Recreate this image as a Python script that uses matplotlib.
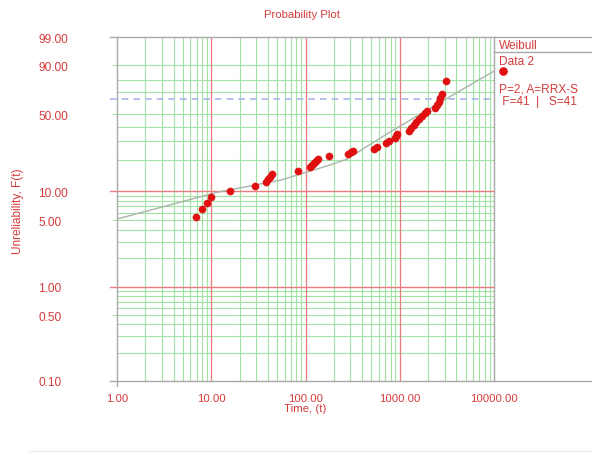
import numpy as np
import matplotlib
matplotlib.use("Agg")
import matplotlib.pyplot as plt
from matplotlib.lines import Line2D

plt.rcParams['font.family'] = ['Liberation Sans', 'DejaVu Sans']

# ---------------- data ----------------
fail_times = [6.9, 8.0, 9.0, 9.9, 15.8, 29.1, 38.1, 40.0, 42.0, 44.1,
              83.2, 111.6, 117.2, 123.1, 129.2, 135.7, 177.5, 282.5, 304, 319,
              533, 574, 714, 769, 891, 912, 935,
              1254, 1316, 1416, 1487, 1600, 1722, 1854, 1946,
              2366, 2484, 2608, 2673, 2806, 3096]
unrel_pct = [5.42, 6.56, 7.56, 8.70, 10.0, 11.2, 12.3, 13.2, 13.8, 14.8,
             15.8, 17.3, 18.1, 18.9, 19.7, 20.6, 22.0, 23.0, 24.0, 24.5,
             25.5, 26.6, 28.9, 30.1, 32.0, 33.4, 34.7,
             36.8, 39.0, 41.2, 43.5, 46.0, 48.4, 51.0, 52.7,
             55.3, 58.0, 60.7, 64.3, 67.9, 79.0]

fit_t = [1, 11.5, 55, 104, 169, 276, 483, 788, 2673, 10000]
fit_pct = [5.17, 9.71, 12.9, 15.5, 17.7, 20.6, 28.1, 36.1, 60.4, 86.4]

eta_pct = 63.2

x_major = [10, 100, 1000]
x_minor = [k * 10 ** d for d in range(4) for k in range(2, 10)]
y_major = [1, 10]
y_minor = [0.2, 0.3, 0.4, 0.5, 0.6, 0.7, 0.8, 0.9,
           2, 3, 4, 5, 6, 7, 8, 9,
           20, 30, 40, 50, 70, 80, 90]
x_ticks = [1, 10, 100, 1000, 10000]
x_labels = ["1.00", "10.00", "100.00", "1000.00", "10000.00"]
y_ticks = [0.1, 0.5, 1, 5, 10, 50, 90, 99]
y_labels = ["0.10", "0.50", "1.00", "5.00", "10.00", "50.00", "90.00", "99.00"]
y_ext = [0.5, 5, 50, 90]

legend_lines = ["Weibull", "Data 2", "P=2, A=RRX-S", " F=41  |   S=41"]

# ---------------- styles ----------------
RED_TXT = '#d43c3c'
GRID_G = '#a2e2a2'
GRID_R = '#ee7a7a'
FRAME = '#a8a8a8'
DOT = '#e01010'
FIT = '#a9b5a9'
DASH = '#a6b6ea'


def fwd(p):
    p = np.asarray(p, dtype=float)
    with np.errstate(all='ignore'):
        q = np.clip(p / 100.0, 1e-12, 1 - 1e-12)
        return np.log(-np.log(1 - q))


def inv(w):
    w = np.asarray(w, dtype=float)
    with np.errstate(all='ignore'):
        return 100.0 * (1 - np.exp(-np.exp(w)))


fig = plt.figure(figsize=(5.92, 4.60), dpi=100)
L, R, B, T = 117 / 592, 494 / 592, 1 - 382 / 460, 1 - 38 / 460
ax = fig.add_axes([L, B, R - L, T - B])
ax.set_xscale('log')
ax.set_yscale('function', functions=(fwd, inv))
ax.set_xlim(1, 10000)
ax.set_ylim(0.1, 99)

for s in ax.spines.values():
    s.set_visible(False)

# grid
for xv in x_minor:
    if xv < 10000:
        ax.axvline(xv, color=GRID_G, lw=0.8, zorder=1)
for xv in x_major:
    ax.axvline(xv, color=GRID_R, lw=0.9, zorder=1.4)
ext = -7 / (494 - 117)
for yv in y_minor:
    xmin = -4 / (494 - 117) if yv in y_ext else 0
    ax.axhline(yv, xmin=xmin, xmax=1, color=GRID_G, lw=0.8, zorder=1.2, clip_on=False)
for yv in y_major:
    ax.axhline(yv, xmin=ext, xmax=1, color=GRID_R, lw=1.0, zorder=1.6, clip_on=False)
ax.axhline(eta_pct, xmin=ext, xmax=1, color=DASH, lw=1.2, ls=(0, (4, 3)), zorder=1.8, clip_on=False)

# frame
frame_right = (592 - 117) / (494 - 117)
ax.axhline(99, xmin=ext, xmax=frame_right, color=FRAME, lw=1.0, clip_on=False, zorder=3)
ax.axhline(0.1, xmin=ext, xmax=frame_right, color=FRAME, lw=1.0, clip_on=False, zorder=3)
ax.axvline(1, ymin=-5 / 344, ymax=1, color=FRAME, lw=1.0, clip_on=False, zorder=3)
ax.axvline(10000, color=FRAME, lw=1.0, clip_on=False, zorder=3)

# fitted line and data
ax.plot(fit_t, fit_pct, color=FIT, lw=1.0, zorder=4)
ax.plot(fail_times, unrel_pct, 'o', color=DOT, ms=5.2, mec=DOT, mew=0.3, zorder=5)

# ticks
ax.set_xticks(x_ticks)
ax.set_xticklabels(x_labels)
ax.set_yticks(y_ticks)
ax.set_yticklabels(y_labels)
ax.xaxis.set_minor_locator(matplotlib.ticker.NullLocator())
ax.yaxis.set_minor_locator(matplotlib.ticker.NullLocator())
ax.tick_params(axis='x', length=0, pad=8.5, labelsize=8.2, labelcolor=RED_TXT)
ax.tick_params(axis='y', length=0, pad=(117 - 38) * 0.72, labelsize=8.6, labelcolor=RED_TXT)
for lab in ax.get_yticklabels():
    lab.set_horizontalalignment('left')

ax.set_xlabel("Time, (t)", fontsize=8.2, color=RED_TXT, labelpad=0.5)
fig.text(18 / 592, 1 - 211 / 460, "Unreliability, F(t)", rotation=90,
         ha='center', va='center', fontsize=8.6, color=RED_TXT)
fig.text(302 / 592, 1 - 15 / 460, "Probability Plot", ha='center', va='center',
         fontsize=8.2, color=RED_TXT)

# legend panel
fig.add_artist(Line2D([494 / 592, 1.0], [1 - 53 / 460] * 2, color=FRAME, lw=1.0,
                      transform=fig.transFigure))
fig.text(499 / 592, 1 - 46 / 460, legend_lines[0], ha='left', va='center', fontsize=8.6, color=RED_TXT)
fig.text(499 / 592, 1 - 62 / 460, legend_lines[1], ha='left', va='center', fontsize=8.6, color=RED_TXT)
fig.add_artist(Line2D([503 / 592], [1 - 71.5 / 460], marker='o', color=DOT, ms=5.2, ls='none',
                      transform=fig.transFigure))
fig.text(499 / 592, 1 - 89 / 460, legend_lines[2], ha='left', va='center', fontsize=8.6, color=RED_TXT)
fig.text(499 / 592, 1 - 102 / 460, legend_lines[3], ha='left', va='center', fontsize=8.6, color=RED_TXT)

# faint bottom rule
fig.add_artist(Line2D([0.05, 1.0], [1 - 452 / 460] * 2, color='#eeeeee', lw=1.0,
                      transform=fig.transFigure))

fig.savefig("out.png", dpi=100)
